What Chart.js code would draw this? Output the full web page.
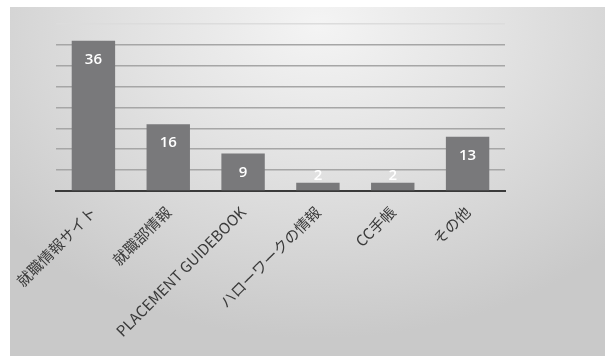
<!DOCTYPE html>
<html lang="ja">
<head>
  <meta charset="UTF-8">
  <title>就職情報の入手先</title>
  <script src="https://cdn.jsdelivr.net/npm/chart.js"></script>
  <style>
    html, body { margin: 0; padding: 0; background: #fff; }
    #panel {
      position: absolute; left: 10px; top: 7px; width: 595px; height: 349px;
      background: radial-gradient(ellipse 70% 90% at 52% 5%, #f4f4f4 0%, #e2e2e2 45%, #c9c9c9 100%);
    }
  </style>
</head>
<body>
  <div id="panel"><canvas id="myChart" width="595" height="349"></canvas></div>
  <script>
    // データ
    const categories = ['就職情報サイト', '就職部情報', 'PLACEMENT GUIDEBOOK', 'ハローワークの情報', 'CC手帳', 'その他'];
    const counts = [36, 16, 9, 2, 2, 13];
    const yTicks = [0, 5, 10, 15, 20, 25, 30, 35, 40];

    // 棒の上端付近に白い数値を描く
    const valueLabels = {
      id: 'valueLabels',
      afterDatasetsDraw(chart) {
        const c = chart.ctx;
        const base = chart.scales.y.getPixelForValue(0);
        c.save();
        c.fillStyle = '#ffffff';
        c.font = '600 15px "Open Sans", sans-serif';
        c.textAlign = 'center';
        c.textBaseline = 'middle';
        chart.getDatasetMeta(0).data.forEach((bar, i) => {
          const y = Math.min(bar.y + 19, base - 15);
          c.fillText(String(counts[i]), bar.x, y);
        });
        c.restore();
      }
    };

    new Chart(document.getElementById('myChart'), {
      type: 'bar',
      data: {
        labels: categories,
        datasets: [{
          data: counts,
          backgroundColor: '#79797b',
          categoryPercentage: 1,
          barPercentage: 0.58
        }]
      },
      options: {
        responsive: false,
        animation: false,
        layout: { padding: { left: 46, right: 100, top: 17, bottom: 12 } },
        plugins: { legend: { display: false }, tooltip: { enabled: false } },
        scales: {
          x: {
            grid: { display: false },
            border: { display: true, color: '#3a3a3a', width: 2 },
            ticks: {
              color: '#3a3a3a',
              font: { family: '"Noto Sans CJK JP", "Noto Sans", sans-serif', size: 15 },
              minRotation: 45, maxRotation: 45, padding: 4
            }
          },
          y: {
            min: 0, max: 40,
            afterBuildTicks(axis) { axis.ticks = yTicks.map(v => ({ value: v })); },
            ticks: { display: false },
            border: { display: false },
            grid: {
              drawTicks: false,
              lineWidth: 1.5,
              color: ctx => ctx.tick.value === 40 ? '#dcdcdc' : '#a6a6a6'
            }
          }
        }
      },
      plugins: [valueLabels]
    });
  </script>
</body>
</html>
